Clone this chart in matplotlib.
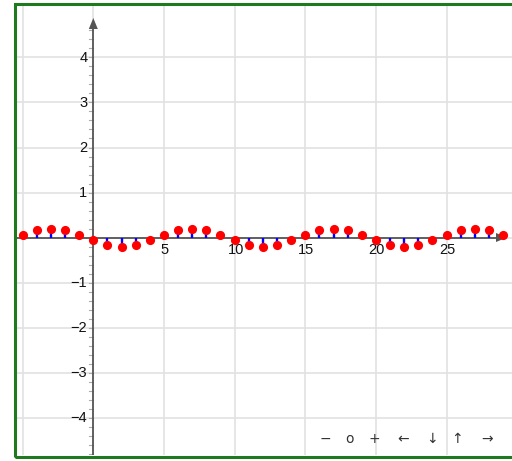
import matplotlib
matplotlib.use("Agg")
import matplotlib.pyplot as plt
from matplotlib.patches import Rectangle, Polygon
import numpy as np

plt.rcParams['font.family'] = ['Liberation Sans', 'DejaVu Sans']

# data
x_vals = list(range(-5, 30))
y_vals = [0.06, 0.16, 0.20, 0.16, 0.06, -0.06, -0.16, -0.20, -0.16, -0.06,
          0.06, 0.16, 0.20, 0.16, 0.06, -0.06, -0.16, -0.20, -0.16, -0.06,
          0.06, 0.16, 0.20, 0.16, 0.06, -0.06, -0.16, -0.20, -0.16, -0.06,
          0.06, 0.16, 0.20, 0.16, 0.06]
x_ticks = [5, 10, 15, 20, 25]
y_ticks = [-4, -3, -2, -1, 1, 2, 3, 4]
x_grid = [-5, 0, 5, 10, 15, 20, 25]
y_grid = [-4, -3, -2, -1, 0, 1, 2, 3, 4]
toolbar = ['−', 'o', '+', '←', '↓', '↑', '→']

W, H = 512, 461
fig = plt.figure(figsize=(W/100, H/100), dpi=100)
fig.patch.set_facecolor('white')

# axes in pixel coordinates
left_px, right_px, top_px, bot_px = 16, 512, 6, 455
ax = fig.add_axes([left_px/W, 1 - bot_px/H, (right_px-left_px)/W, (bot_px-top_px)/H])
xpx = 14.13
ypx = 45.0
x0px, y0px = 93.3, 237.5
ax.set_xlim((left_px - x0px)/xpx, (right_px - x0px)/xpx)
ax.set_ylim(-(bot_px - y0px)/ypx, (y0px - top_px)/ypx)
for s in ax.spines.values():
    s.set_visible(False)
ax.set_xticks([]); ax.set_yticks([])
ax.set_facecolor('white')

gc = '#e2e2e2'
for g in x_grid:
    ax.axvline(g, color=gc, lw=1.2, zorder=0)
for g in y_grid:
    ax.axhline(g, color=gc, lw=1.2, zorder=0)

ymin, ymax = ax.get_ylim()
xmin, xmax = ax.get_xlim()
axc = '#555555'
# y axis
ytip = (y0px - 18)/ypx
ax.plot([0, 0], [ymin, ytip - 0.1], color=axc, lw=1.3, zorder=2, solid_capstyle='butt')
ax.add_patch(Polygon([[0, ytip], [-4.5/xpx, ytip - 11/ypx], [4.5/xpx, ytip - 11/ypx]],
                     closed=True, color=axc, zorder=3, lw=0))
# x axis
xtip = (507 - x0px)/xpx
ax.plot([xmin, xtip - 0.3], [0, 0], color=axc, lw=1.3, zorder=2, solid_capstyle='butt')
ax.add_patch(Polygon([[xtip, 0], [xtip - 11/xpx, 4.5/ypx], [xtip - 11/xpx, -4.5/ypx]],
                     closed=True, color=axc, zorder=3, lw=0))

# minor ticks on y axis
for k in range(-24, 25):
    v = k * 0.2
    if v < ymin or v > ytip - 0.2:
        continue
    ax.plot([-4.5/xpx, 0], [v, v], color='#aaaaaa', lw=0.8, zorder=1)

# tick labels
for t in y_ticks:
    ax.text(-6/xpx, t, str(t).replace('-', '−'), ha='right', va='center',
            fontsize=10.5, color='#111111', zorder=4)
for t in x_ticks:
    ax.text(t + 1/xpx, -12.5/ypx, str(t), ha='center', va='center',
            fontsize=10.5, color='#111111', zorder=4)

# stems
ax.vlines(x_vals, 0, y_vals, colors='#0000ff', lw=1.7, zorder=4)
ax.plot(x_vals, y_vals, 'o', color='#ff0000', markersize=6.6, markeredgewidth=0, zorder=5)

# toolbar
tx = [325, 349, 374, 403, 432, 457, 487]
for s, p in zip(toolbar, tx):
    fig.text(p/W, 1 - 439/H, s, ha='center', va='center', fontsize=10,
             color='#333333', family=['DejaVu Sans'])

# green border
fig.add_artist(Rectangle((14.75/W, 1 - 456.5/H), (520 - 14.75)/W, (456.5 - 4.5)/H,
                         transform=fig.transFigure, fill=False,
                         edgecolor='#1f7a1f', lw=2.2, zorder=10))

fig.savefig('out.png', dpi=100, facecolor='white')
